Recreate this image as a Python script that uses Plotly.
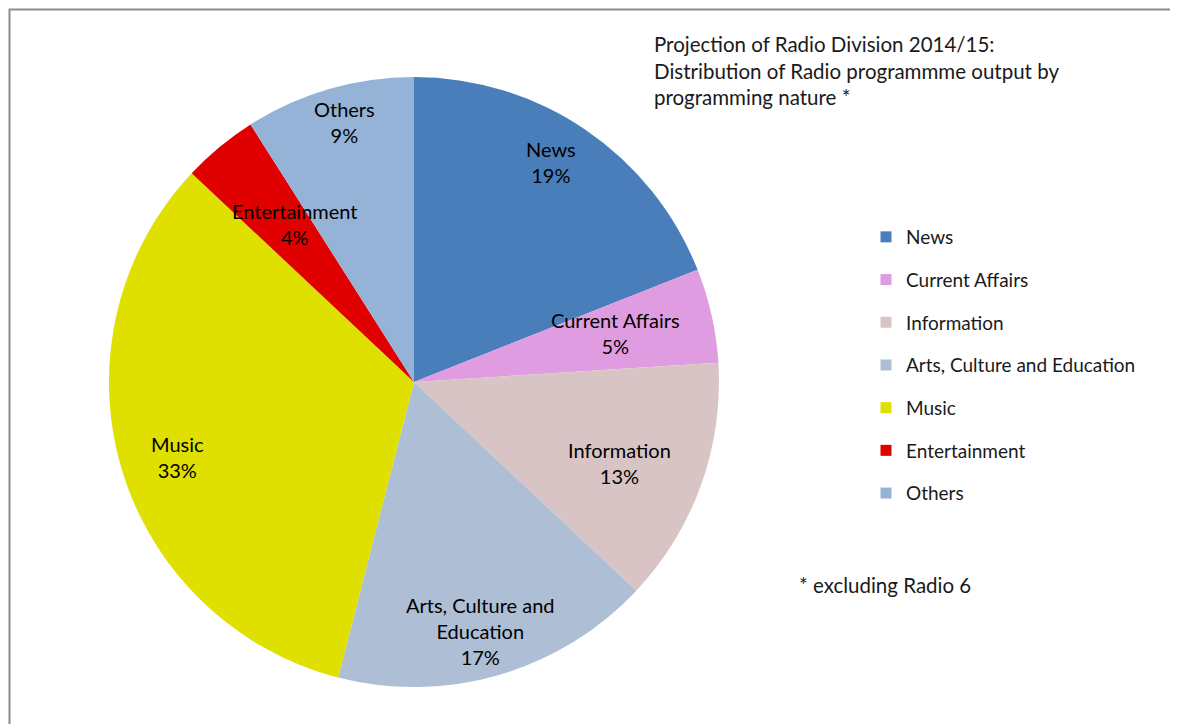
import math
import plotly.graph_objects as go

categories = ["News", "Current Affairs", "Information", "Arts, Culture and Education",
              "Music", "Entertainment", "Others"]
slice_labels = ["News", "Current Affairs", "Information", "Arts, Culture and<br>Education",
                "Music", "Entertainment", "Others"]
values = [19, 5, 13, 17, 33, 4, 9]
colors = ["#4A7EBB", "#E09CE0", "#D8C4C4", "#ADBED5", "#E0E000", "#E00000", "#95B3D7"]
# radial position of each data label, as a fraction of the pie radius (style)
label_radius = [0.838, 0.711, 0.752, 0.817, 0.847, 0.644, 0.853]

W, H = 1178, 724
OFF = 8  # page body margin
FONT = "Lato"
TXT = "#1a1a1a"


def px(x):
    return (x - OFF) / W


def py(y):
    return 1 - (y - OFF) / H


# pie centre/radius in screen pixels
cx, cy, r = 414, 382, 305
fig = go.Figure()
fig.add_trace(go.Pie(
    labels=categories,
    values=values,
    textinfo="none",
    marker=dict(colors=colors, line=dict(width=0)),
    sort=False,
    direction="clockwise",
    rotation=0,
    showlegend=False,
    hoverinfo="label+percent",
    domain=dict(x=[px(cx - r), px(cx + r)], y=[py(cy + r), py(cy - r)]),
))

# legend entries
for name, c in zip(categories, colors):
    fig.add_trace(go.Scatter(
        x=[None], y=[None], mode="markers",
        marker=dict(symbol="square", size=11, color=c),
        name=name, legendgroup=name, showlegend=True,
    ))

# data labels placed at each slice's mid-angle
annotations = []
total = sum(values)
acc = 0
rx, ry = 291, 318
for lab, v, f in zip(slice_labels, values, label_radius):
    theta = 2 * math.pi * (acc + v / 2) / total
    acc += v
    lx = cx + f * rx * math.sin(theta)
    ly = cy - f * ry * math.cos(theta)
    annotations.append(dict(
        text=f"{lab}<br>{round(100 * v / total)}%", x=px(lx), y=py(ly),
        xref="paper", yref="paper", xanchor="center", yanchor="middle",
        showarrow=False, align="center", font=dict(family=FONT, size=20, color="#000000")))

annotations += [
    dict(text="Projection of Radio Division 2014/15:<br>Distribution of Radio programmme output by<br>programming nature *",
         x=px(652), y=py(30), xref="paper", yref="paper", xanchor="left", yanchor="top",
         align="left", showarrow=False, font=dict(family=FONT, size=20.5, color=TXT)),
    dict(text="* excluding Radio 6", x=px(797), y=py(585), xref="paper", yref="paper",
         xanchor="left", yanchor="middle", showarrow=False,
         font=dict(family=FONT, size=20.5, color=TXT)),
]

fig.update_layout(
    width=W, height=H,
    margin=dict(l=0, r=0, t=0, b=0),
    paper_bgcolor="white", plot_bgcolor="white",
    font=dict(family=FONT, size=19, color=TXT),
    xaxis=dict(visible=False), yaxis=dict(visible=False),
    legend=dict(x=px(866), y=py(218), xanchor="left", yanchor="top",
                tracegroupgap=15, font=dict(family=FONT, size=19, color=TXT),
                itemwidth=30, bgcolor="rgba(0,0,0,0)"),
    shapes=[dict(type="rect", xref="paper", yref="paper",
                 x0=1.5 / W, x1=1.01, y0=-0.01, y1=1 - 1.5 / H,
                 line=dict(color="#8c8c8c", width=2), fillcolor="rgba(0,0,0,0)", layer="below")],
    annotations=annotations,
)

fig.write_html("out.html")
